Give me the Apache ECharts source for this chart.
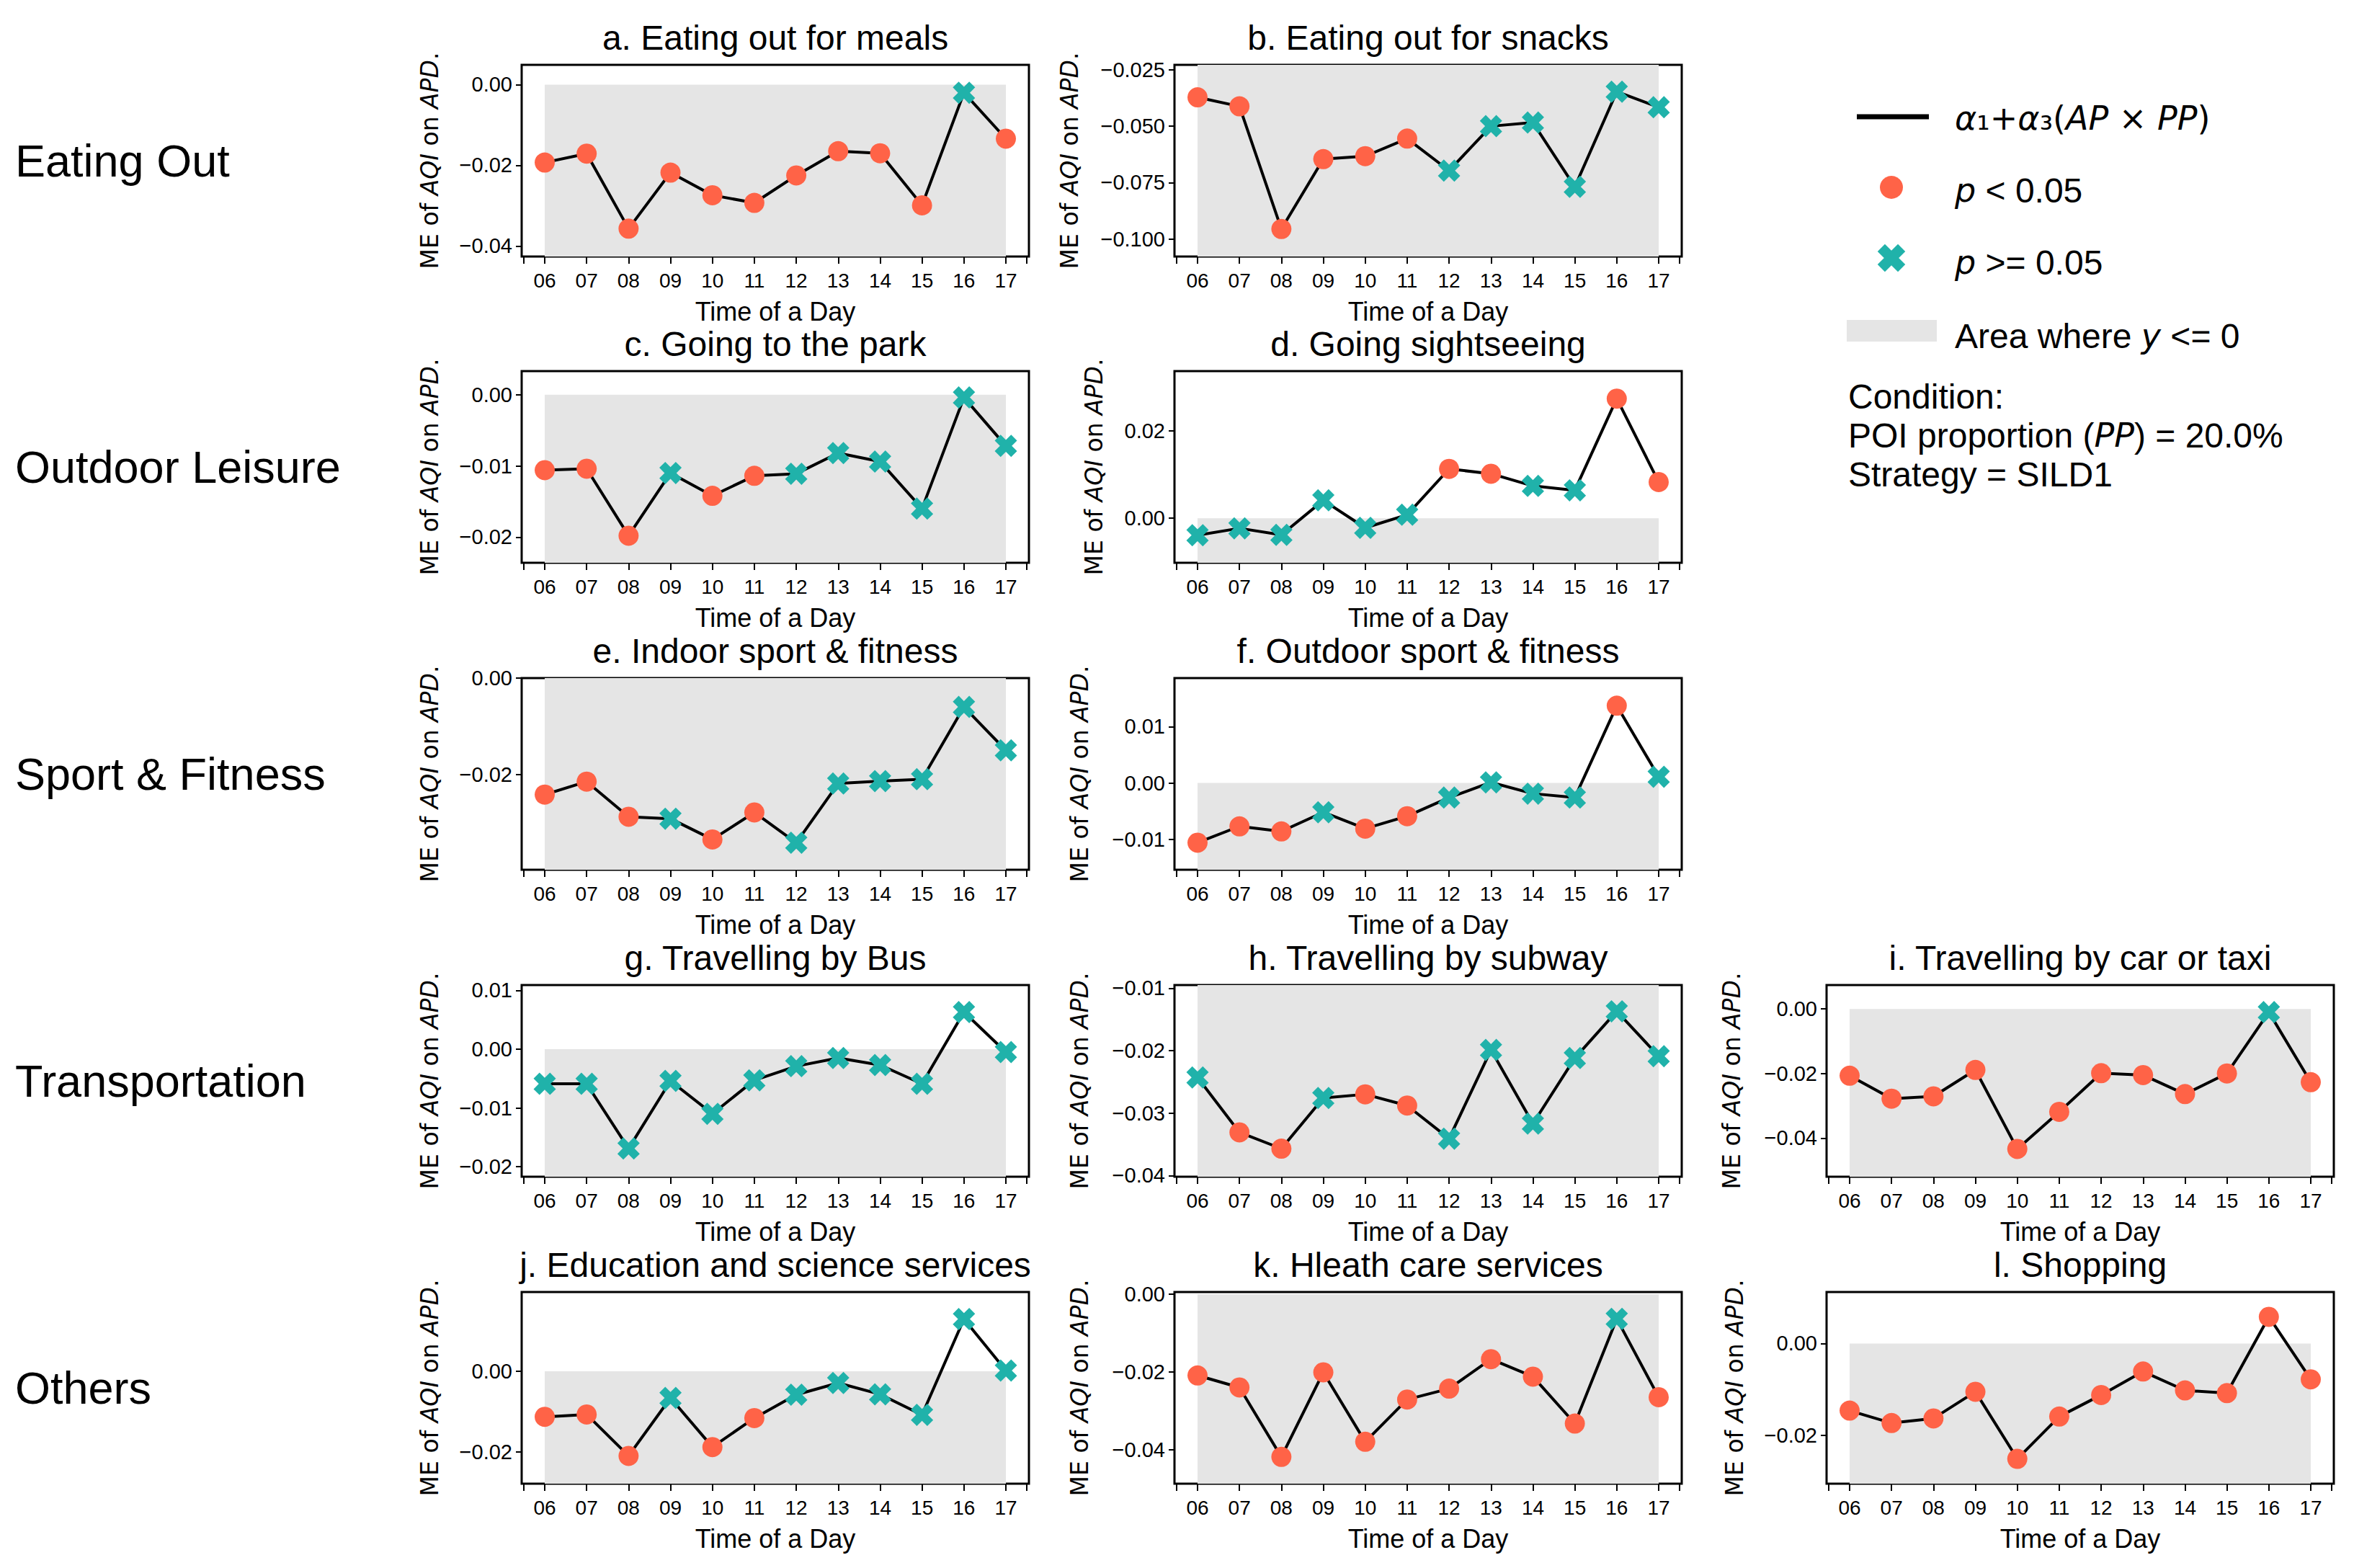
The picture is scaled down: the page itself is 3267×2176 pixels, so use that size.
<!DOCTYPE html>
<html><head><meta charset="utf-8">
<script src="https://cdn.jsdelivr.net/npm/echarts@6/dist/echarts.min.js"></script>
<style>html,body{margin:0;padding:0;background:#fff}#c{width:3267px;height:2176px}</style>
</head><body><div id="c"></div>
<script>
// ---------------- data ----------------
const hours = ['06','07','08','09','10','11','12','13','14','15','16','17'];
const rowLabels = ['Eating Out','Outdoor Leisure','Sport & Fitness','Transportation','Others'];
const titles = ['a. Eating out for meals','b. Eating out for snacks','c. Going to the park','d. Going sightseeing',
  'e. Indoor sport & fitness','f. Outdoor sport & fitness','g. Travelling by Bus','h. Travelling by subway',
  'i. Travelling by car or taxi','j. Education and science services','k. Hleath care services','l. Shopping'];

const valA = [-0.0193,-0.0171,-0.0357,-0.0218,-0.0274,-0.0293,-0.0225,-0.0165,-0.0170,-0.0299,-0.0020,-0.0134];
const sigA = [1,1,1,1,1,1,1,1,1,1,0,1];
const valB = [-0.0372,-0.0412,-0.0956,-0.0646,-0.0633,-0.0555,-0.0697,-0.0500,-0.0484,-0.0769,-0.0347,-0.0416];
const sigB = [1,1,1,1,1,1,0,0,0,0,0,0];
const valC = [-0.0106,-0.0104,-0.0198,-0.0110,-0.0142,-0.0114,-0.0111,-0.0082,-0.0094,-0.0160,-0.0004,-0.0072];
const sigC = [1,1,1,0,1,1,0,0,0,0,0,0];
const valD = [-0.0039,-0.0023,-0.0038,0.0041,-0.0022,0.0008,0.0113,0.0102,0.0074,0.0064,0.0274,0.0083];
const sigD = [0,0,0,0,0,0,1,1,0,0,1,1];
const valE = [-0.0242,-0.0215,-0.0288,-0.0292,-0.0335,-0.0279,-0.0342,-0.0219,-0.0214,-0.0210,-0.0060,-0.0150];
const sigE = [1,1,1,0,1,1,0,0,0,0,0,0];
const valF = [-0.0106,-0.0077,-0.0086,-0.0052,-0.0081,-0.0059,-0.0026,0.0001,-0.0019,-0.0026,0.0137,0.0011];
const sigF = [1,1,1,0,1,1,0,0,0,0,1,0];
const valG = [-0.0059,-0.0059,-0.0169,-0.0054,-0.0110,-0.0053,-0.0029,-0.0015,-0.0027,-0.0059,0.0063,-0.0005];
const sigG = [0,0,0,0,0,0,0,0,0,0,0,0];
const valH = [-0.0243,-0.0331,-0.0357,-0.0276,-0.0270,-0.0288,-0.0341,-0.0199,-0.0317,-0.0212,-0.0137,-0.0209];
const sigH = [0,1,1,0,1,1,0,0,0,0,0,0];
const valI = [-0.0207,-0.0278,-0.0271,-0.0189,-0.0434,-0.0319,-0.0199,-0.0205,-0.0264,-0.0200,-0.0010,-0.0227];
const sigI = [1,1,1,1,1,1,1,1,1,1,0,1];
const valJ = [-0.0113,-0.0107,-0.0210,-0.0066,-0.0188,-0.0116,-0.0058,-0.0029,-0.0057,-0.0108,0.0130,0.0002];
const sigJ = [1,1,1,0,1,1,0,0,0,0,0,0];
const valK = [-0.0209,-0.0240,-0.0419,-0.0201,-0.0380,-0.0271,-0.0243,-0.0167,-0.0212,-0.0333,-0.0063,-0.0265];
const sigK = [1,1,1,1,1,1,1,1,1,1,0,1];
const valL = [-0.0146,-0.0173,-0.0163,-0.0105,-0.0251,-0.0159,-0.0112,-0.0061,-0.0102,-0.0108,0.0058,-0.0078];
const sigL = [1,1,1,1,1,1,1,1,1,1,1,1];

// y axis ranges [min, max] and tick values
const rangeA = [-0.0426, 0.0049],  ticksA = [0, -0.02, -0.04];
const rangeB = [-0.1078, -0.0228], ticksB = [-0.025, -0.05, -0.075, -0.1];
const rangeC = [-0.0236, 0.0033],  ticksC = [0, -0.01, -0.02];
const rangeD = [-0.0102, 0.0337],  ticksD = [0, 0.02];
const rangeE = [-0.0398, 0.0],     ticksE = [0, -0.02];
const rangeF = [-0.0154, 0.0186],  ticksF = [0.01, 0, -0.01];
const rangeG = [-0.0217, 0.0109],  ticksG = [0.01, 0, -0.01, -0.02];
const rangeH = [-0.0402, -0.0095], ticksH = [-0.01, -0.02, -0.03, -0.04];
const rangeI = [-0.0520, 0.0074],  ticksI = [0, -0.02, -0.04];
const rangeJ = [-0.0279, 0.0197],  ticksJ = [0, -0.02];
const rangeK = [-0.0488, 0.0006],  ticksK = [0, -0.02, -0.04];
const rangeL = [-0.0305, 0.0112],  ticksL = [0, -0.02];

// ---------------- layout / style ----------------
const FONT = "'Liberation Sans', Arial, sans-serif";
const DV = "'DejaVu Sans', sans-serif";
const RED = '#FF6347', GREEN = '#20B2AA', GRAY = '#e5e5e5';
const colX = [724, 1630, 2535], rowY = [90, 515, 941, 1367, 1793], W = 704, H = 266;

// filled "X" marker outline (unit coordinates, rotated plus)
function xPoints(w){
  const pts = [[-w,-1],[w,-1],[w,-w],[1,-w],[1,w],[w,w],[w,1],[-w,1],[-w,w],[-1,w],[-1,-w],[-w,-w]];
  return pts.map(([x,y]) => [(x - y) / Math.SQRT2, (x + y) / Math.SQRT2]);
}
const XPTS = xPoints(0.36);
const XSYM = 'path://M' + XPTS.map(p => ((p[0] * 50 + 50).toFixed(2) + ',' + (p[1] * 50 + 50).toFixed(2))).join('L') + 'Z';

const panels = [
  {t:titles[0], v:valA, s:sigA, r:rangeA, tk:ticksA, dec:2, row:0, col:0, gap:111},
  {t:titles[1], v:valB, s:sigB, r:rangeB, tk:ticksB, dec:3, row:0, col:1, gap:129},
  {t:titles[2], v:valC, s:sigC, r:rangeC, tk:ticksC, dec:2, row:1, col:0, gap:111},
  {t:titles[3], v:valD, s:sigD, r:rangeD, tk:ticksD, dec:2, row:1, col:1, gap:95},
  {t:titles[4], v:valE, s:sigE, r:rangeE, tk:ticksE, dec:2, row:2, col:0, gap:111},
  {t:titles[5], v:valF, s:sigF, r:rangeF, tk:ticksF, dec:2, row:2, col:1, gap:115},
  {t:titles[6], v:valG, s:sigG, r:rangeG, tk:ticksG, dec:2, row:3, col:0, gap:111},
  {t:titles[7], v:valH, s:sigH, r:rangeH, tk:ticksH, dec:2, row:3, col:1, gap:115},
  {t:titles[8], v:valI, s:sigI, r:rangeI, tk:ticksI, dec:2, row:3, col:2, gap:115},
  {t:titles[9], v:valJ, s:sigJ, r:rangeJ, tk:ticksJ, dec:2, row:4, col:0, gap:111},
  {t:titles[10], v:valK, s:sigK, r:rangeK, tk:ticksK, dec:2, row:4, col:1, gap:115},
  {t:titles[11], v:valL, s:sigL, r:rangeL, tk:ticksL, dec:2, row:4, col:2, gap:111}
];

const idx = hours.map((h, i) => i);
const grids = [], xAxes = [], yAxes = [], series = [], graphics = [];

panels.forEach((p, k) => {
  const left = colX[p.col], top = rowY[p.row];
  grids.push({left: left, top: top, width: W, height: H, show: true, borderColor: '#000', borderWidth: 3, backgroundColor: 'transparent'});
  xAxes.push({
    type: 'value', gridIndex: k, min: -0.55, max: 11.55, position: 'bottom',
    axisLine: {show: false, onZero: false}, splitLine: {show: false},
    axisTick: {show: true, length: 10, lineStyle: {color: '#000', width: 2}, customValues: [-0.5].concat(idx, [11.5])},
    axisLabel: {customValues: idx, formatter: v => hours[Math.round(v)], fontSize: 28, color: '#000', margin: 19, fontFamily: FONT},
    name: 'Time of a Day', nameLocation: 'middle', nameGap: 58,
    nameTextStyle: {fontSize: 36, color: '#000', fontFamily: FONT}
  });
  yAxes.push({
    type: 'value', gridIndex: k, min: p.r[0], max: p.r[1], position: 'left',
    axisLine: {show: false, onZero: false}, splitLine: {show: false},
    axisTick: {show: true, length: 8, lineStyle: {color: '#000', width: 2}, customValues: p.tk},
    axisLabel: {customValues: p.tk, fontSize: 29, color: '#000', margin: 13, fontFamily: FONT,
      formatter: v => (v < 0 ? '\u2212' : '') + Math.abs(v).toFixed(p.dec)},
    name: 'ME of {i|AQI} on {i|APD}.', nameLocation: 'middle', nameRotate: 90, nameGap: p.gap,
    nameTextStyle: {fontSize: 33, color: '#000', fontFamily: DV,
      rich: {i: {fontSize: 33, fontStyle: 'italic', fontFamily: DV, color: '#000'}}}
  });
  series.push({
    type: 'line', xAxisIndex: k, yAxisIndex: k, animation: false, silent: true, showAllSymbol: true,
    lineStyle: {color: '#000', width: 4}, z: 3,
    data: p.v.map((v, i) => ({
      value: [i, v],
      symbol: p.s[i] ? 'circle' : XSYM,
      symbolSize: p.s[i] ? 28 : 31,
      itemStyle: {color: p.s[i] ? RED : GREEN, opacity: 1}
    })),
    markArea: {silent: true, itemStyle: {color: GRAY}, label: {show: false},
      data: [[{coord: [0, p.r[0]]}, {coord: [11, Math.min(0, p.r[1])]}]]}
  });
  graphics.push({type: 'text', x: left + W / 2, y: top - 38,
    style: {text: p.t, fontSize: 48, fontFamily: FONT, fill: '#000', align: 'center', verticalAlign: 'middle'}});
});

rowLabels.forEach((t, r) => {
  graphics.push({type: 'text', x: 21, y: rowY[r] + H / 2,
    style: {text: t, fontSize: 63, fontFamily: FONT, fill: '#000', align: 'left', verticalAlign: 'middle'}});
});

// legend
const LX = 2713, LF = 48;
const itRich = {i: {fontStyle: 'italic', fontFamily: DV, fontSize: LF - 2, fill: '#000'}};
graphics.push(
  {type: 'line', shape: {x1: 2577, y1: 162, x2: 2677, y2: 162}, style: {stroke: '#000', lineWidth: 7}},
  {type: 'text', x: LX, y: 164, style: {text: '{i|\u03b1}\u2081+{i|\u03b1}\u2083({i|AP} \u00d7 {i|PP})', rich: itRich, fontSize: 46, fontFamily: DV, fill: '#000', verticalAlign: 'middle'}},
  {type: 'circle', shape: {cx: 2625, cy: 260, r: 16}, style: {fill: RED}},
  {type: 'polygon', shape: {points: XPTS.map(p => [2625 + p[0] * 20, 358 + p[1] * 20])}, style: {fill: GREEN}},
  {type: 'text', x: LX, y: 264, style: {text: '{i|p} < 0.05', rich: itRich, fontSize: LF, fontFamily: FONT, fill: '#000', verticalAlign: 'middle'}},
  {type: 'text', x: LX, y: 364, style: {text: '{i|p} >= 0.05', rich: itRich, fontSize: LF, fontFamily: FONT, fill: '#000', verticalAlign: 'middle'}},
  {type: 'rect', shape: {x: 2563, y: 444, width: 125, height: 30}, style: {fill: GRAY}},
  {type: 'text', x: LX, y: 466, style: {text: 'Area where {i|y} <= 0', rich: itRich, fontSize: LF, fontFamily: FONT, fill: '#000', verticalAlign: 'middle'}},
  {type: 'text', x: 2565, y: 550, style: {text: 'Condition:', fontSize: LF, fontFamily: FONT, fill: '#000', verticalAlign: 'middle'}},
  {type: 'text', x: 2565, y: 604, style: {text: 'POI proportion ({i|PP}) = 20.0%', rich: itRich, fontSize: LF, fontFamily: FONT, fill: '#000', verticalAlign: 'middle'}},
  {type: 'text', x: 2565, y: 658, style: {text: 'Strategy = SILD1', fontSize: LF, fontFamily: FONT, fill: '#000', verticalAlign: 'middle'}}
);

const chart = echarts.init(document.getElementById('c'), null, {renderer: 'svg', width: 3267, height: 2176});
chart.setOption({
  animation: false,
  backgroundColor: '#fff',
  grid: grids, xAxis: xAxes, yAxis: yAxes, series: series,
  graphic: {elements: graphics}
});
</script>
</body></html>
